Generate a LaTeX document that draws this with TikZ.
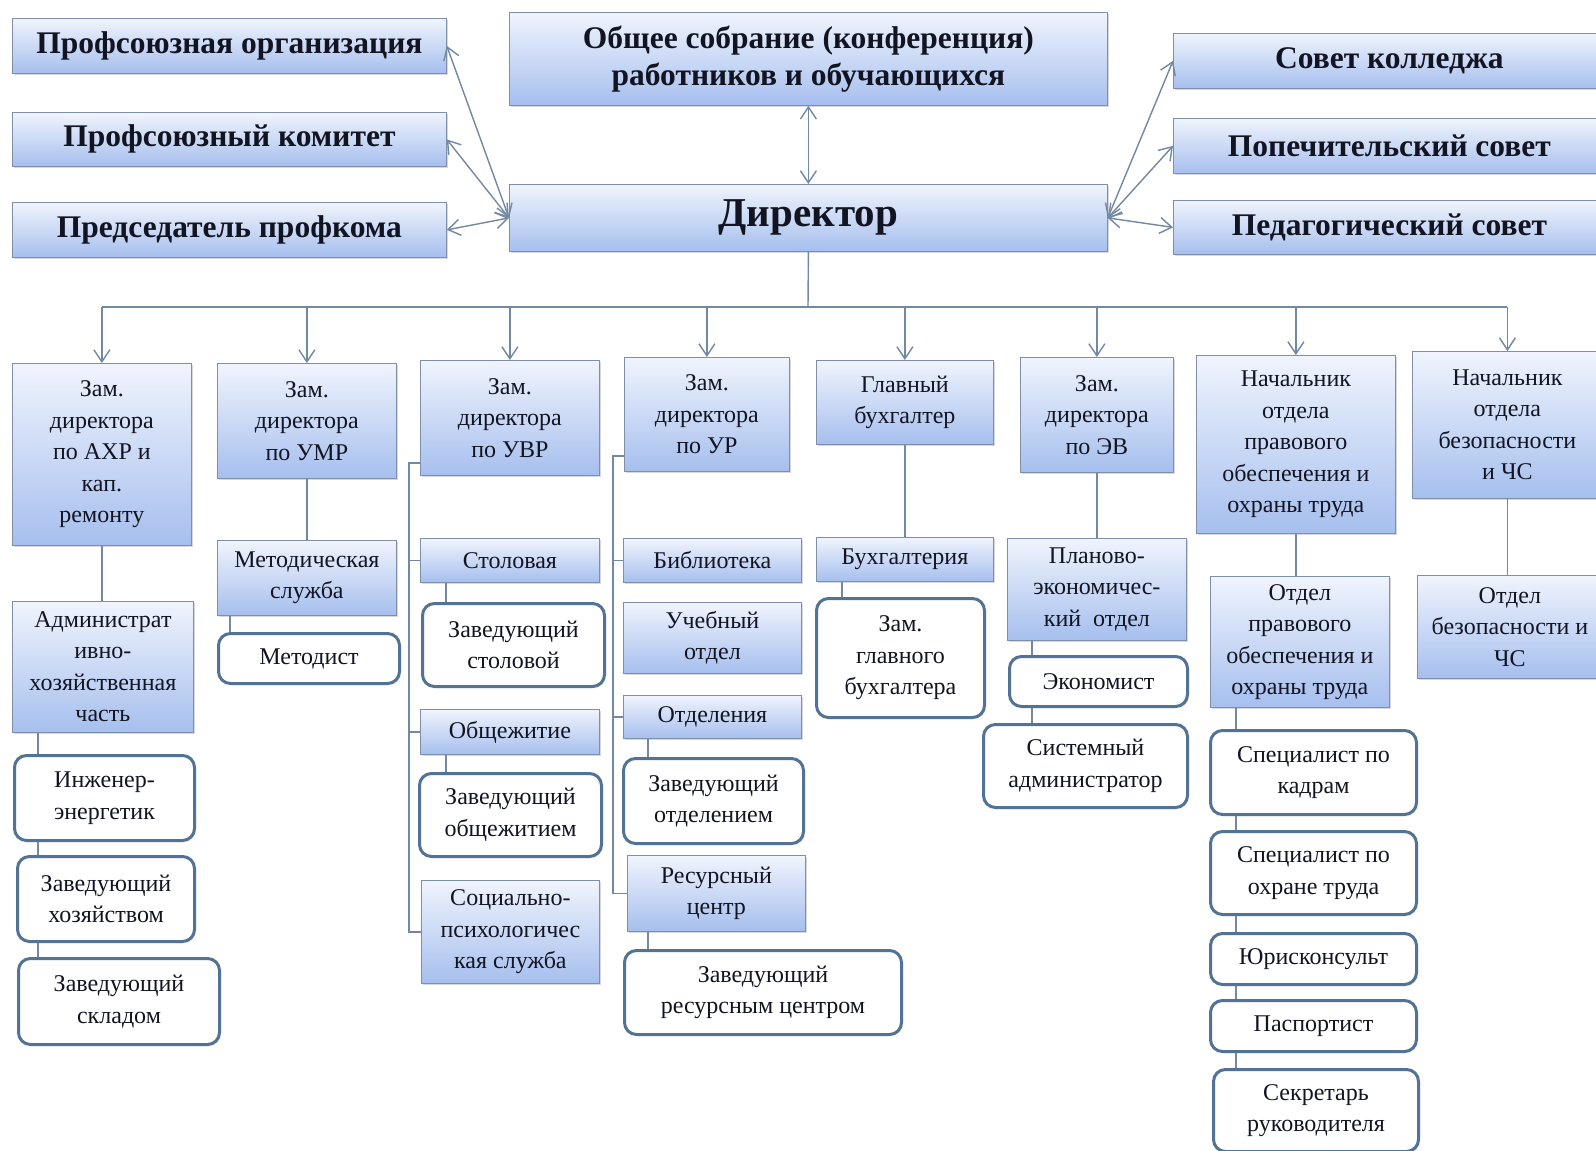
\documentclass[tikz,border=0pt]{standalone}
\usepackage{fontspec}
\setmainfont{Liberation Serif}
\usetikzlibrary{arrows.meta,positioning,shadows}
\usepackage{xcolor}

\definecolor{boxtop}{RGB}{240,244,253}
\definecolor{boxbot}{RGB}{166,191,238}
\definecolor{boxline}{RGB}{128,143,168}
\definecolor{rndline}{RGB}{82,114,150}
\definecolor{conn}{RGB}{114,136,163}
\definecolor{ink}{RGB}{18,20,34}

\newcommand\hdfont{\fontsize{31.5}{37}\selectfont\bfseries}
\newcommand\dirfont{\fontsize{41}{46}\selectfont\bfseries}
\newcommand\smfont{\fontsize{24}{31.5}\selectfont}

\tikzset{
    sz/.style 2 args={minimum width=#1pt, minimum height=#2pt},
    unit/.style={draw=boxline, line width=0.8pt, top color=boxtop, bottom color=boxbot, anchor=north west, align=center, inner sep=2pt, text=ink, font=\smfont, drop shadow={shadow xshift=2pt, shadow yshift=-2pt, opacity=0.3}},
    head/.style={unit, font=\hdfont},
    staff/.style={draw=rndline, line width=3pt, rounded corners=12pt, fill=white, anchor=north west, align=center, inner sep=2pt, text=ink, font=\smfont, drop shadow={shadow xshift=1.5pt, shadow yshift=-1.5pt, opacity=0.2}},
    link/.style={draw=conn, line width=1.4pt},
    flow/.style={link, -{Straight Barb[length=12pt, width=16pt]}},
    biflow/.style={link, {Straight Barb[length=12pt, width=16pt]}-{Straight Barb[length=12pt, width=16pt]}}
}

\begin{document}
\begin{tikzpicture}[x=1pt, y=-1pt]
\fill[white] (0,0) rectangle (1596,1151);
\useasboundingbox (0,0) rectangle (1596,1151);

% top level
\node[head, sz={434}{55}] (porg) at (12,18) {Профсоюзная организация};
\node[head, sz={434}{54}] (pkom) at (12,112) {Профсоюзный комитет};
\node[head, sz={434}{55}] (pred) at (12,202) {Председатель профкома};
\node[head, sz={598}{93}] (sobr) at (509,12) {Общее собрание (конференция)\\работников и обучающихся};
\node[unit, font=\dirfont, sz={598}{67}] (dir) at (509,184) {Директор};
\node[head, sz={432}{55}] (sovet) at (1173,33) {Совет колледжа};
\node[head, sz={432}{55}] (popech) at (1173,118) {Попечительский совет};
\node[head, sz={432}{54}] (pedsov) at (1173,200) {Педагогический совет};

\draw[biflow] (dir.west) -- (porg.east);
\draw[biflow] (dir.west) -- (pkom.east);
\draw[biflow] (dir.west) -- (pred.east);
\draw[biflow] (sobr.south) -- (dir.north);
\draw[biflow] (dir.east) -- (sovet.west);
\draw[biflow] (dir.east) -- (popech.west);
\draw[biflow] (dir.east) -- (pedsov.west);

% deputies
\node[unit, sz={179}{182}] (axr) at (12,363) {Зам.\\директора\\по АХР и\\кап.\\ремонту};
\node[unit, sz={179}{115}] (umr) at (217,363) {Зам.\\директора\\по УМР};
\node[unit, sz={179}{115}] (uvr) at (420,360) {Зам.\\директора\\по УВР};
\node[unit, sz={165}{114}] (ur) at (624,357) {Зам.\\директора\\по УР};
\node[unit, sz={177}{84}] (glb) at (816,360) {Главный\\бухгалтер};
\node[unit, sz={153}{115}] (ev) at (1020,357) {Зам.\\директора\\по ЭВ};
\node[unit, sz={199}{178}] (npr) at (1196,355) {Начальник\\отдела\\правового\\обеспечения и\\охраны труда};
\node[unit, sz={190}{147}] (nbez) at (1412,351) {Начальник\\отдела\\безопасности\\и ЧС};

\coordinate (bus) at (808,307);
\draw[link] (dir.south) -- (bus);
\draw[link] (axr.north |- bus) -- (nbez.north |- bus);
\draw[flow] (axr.north |- bus) -- (axr.north);
\draw[flow] (umr.north |- bus) -- (umr.north);
\draw[flow] (uvr.north |- bus) -- (uvr.north);
\draw[flow] (ur.north |- bus) -- (ur.north);
\draw[flow] (glb.north |- bus) -- (glb.north);
\draw[flow] (ev.north |- bus) -- (ev.north);
\draw[flow] (npr.north |- bus) -- (npr.north);
\draw[flow] (nbez.north |- bus) -- (nbez.north);

% column 1
\node[unit, sz={181}{131}] (ahch) at (12,601) {Администрат\\ивно-\\хозяйственная\\часть};
\node[staff, sz={180}{85}] (ing) at (13,754) {Инженер-\\энергетик};
\node[staff, sz={177}{85}] (zavh) at (16,855) {Заведующий\\хозяйством};
\node[staff, sz={201}{86}] (sklad) at (17,957) {Заведующий\\складом};
\coordinate (t1) at (38,0);
\draw[link] (axr.south) -- (axr.south |- ahch.north);
\draw[link] (t1 |- ahch.south) -- (t1 |- ing.north);
\draw[link] (t1 |- ing.south) -- (t1 |- zavh.north);
\draw[link] (t1 |- zavh.south) -- (t1 |- sklad.north);

% column 2
\node[unit, sz={179}{75}] (msl) at (217,540) {Методическая\\служба};
\node[staff, sz={181}{50}] (metod) at (217,632) {Методист};
\coordinate (t2) at (230,0);
\draw[link] (umr.south) -- (umr.south |- msl.north);
\draw[link] (t2 |- msl.south) -- (t2 |- metod.north);

% column 3
\node[unit, sz={179}{44}] (stol) at (420,538) {Столовая};
\node[staff, sz={182}{83}] (zstol) at (421,602) {Заведующий\\столовой};
\node[unit, sz={179}{45}] (obsh) at (420,709) {Общежитие};
\node[staff, sz={182}{83}] (zobsh) at (418,772) {Заведующий\\общежитием};
\node[unit, sz={178}{103}] (soc) at (421,880) {Социально-\\психологичес\\кая служба};
\coordinate (b3) at (409,0);
\coordinate (t3) at (446,0);
\draw[link] ([yshift=13pt]uvr.south west) -| (b3 |- soc.west) -- (soc.west);
\draw[link] (b3 |- stol.west) -- (stol.west);
\draw[link] (b3 |- obsh.west) -- (obsh.west);
\draw[link] (t3 |- stol.south) -- (t3 |- zstol.north);
\draw[link] (t3 |- obsh.south) -- (t3 |- zobsh.north);

% column 4
\node[unit, sz={178}{44}] (bib) at (623,538) {Библиотека};
\node[unit, sz={178}{71}] (uch) at (623,602) {Учебный\\отдел};
\node[unit, sz={178}{43}] (otd) at (623,695) {Отделения};
\node[staff, sz={180}{85}] (zotd) at (622,757) {Заведующий\\отделением};
\node[unit, sz={178}{76}] (res) at (627,855) {Ресурсный\\центр};
\node[staff, sz={277}{84}] (zres) at (623,949) {Заведующий\\ресурсным центром};
\coordinate (b4) at (613,0);
\coordinate (t4) at (648,0);
\draw[link] ([yshift=16pt]ur.south west) -| (b4 |- res.west) -- (res.west);
\draw[link] (b4 |- bib.west) -- (bib.west);
\draw[link] (b4 |- otd.west) -- (otd.west);
\draw[link] (t4 |- otd.south) -- (t4 |- zotd.north);
\draw[link] (t4 |- res.south) -- (t4 |- zres.north);

% column 5
\node[unit, sz={177}{44}] (buh) at (816,537) {Бухгалтерия};
\node[staff, sz={168}{119}] (zglb) at (815,597) {Зам.\\главного\\бухгалтера};
\coordinate (t5) at (842,0);
\draw[link] (glb.south) -- (glb.south |- buh.north);
\draw[link] (t5 |- buh.south) -- (t5 |- zglb.north);

% column 6
\node[unit, sz={179}{102}] (plan) at (1007,538) {Планово-\\экономичес-\\кий\ \ отдел};
\node[staff, sz={178}{50}] (econ) at (1008,655) {Экономист};
\node[staff, sz={204}{83}] (sys) at (982,723) {Системный\\администратор};
\coordinate (t6) at (1032,0);
\draw[link] (ev.south) -- (ev.south |- plan.north);
\draw[link] (t6 |- plan.south) -- (t6 |- econ.north);
\draw[link] (t6 |- econ.south) -- (t6 |- sys.north);

% column 7
\node[unit, sz={179}{131}] (opr) at (1210,576) {Отдел\\правового\\обеспечения и\\охраны труда};
\node[staff, sz={206}{84}] (kadr) at (1209,729) {Специалист по\\кадрам};
\node[staff, sz={206}{83}] (ohr) at (1209,830) {Специалист по\\охране труда};
\node[staff, sz={206}{51}] (jur) at (1209,932) {Юрисконсульт};
\node[staff, sz={206}{51}] (pasp) at (1209,999) {Паспортист};
\node[staff, sz={205}{82}] (sekr) at (1212,1068) {Секретарь\\руководителя};
\coordinate (t7) at (1236,0);
\draw[link] (npr.south) -- (npr.south |- opr.north);
\draw[link] (t7 |- opr.south) -- (t7 |- kadr.north);
\draw[link] (t7 |- kadr.south) -- (t7 |- ohr.north);
\draw[link] (t7 |- ohr.south) -- (t7 |- jur.north);
\draw[link] (t7 |- jur.south) -- (t7 |- pasp.north);
\draw[link] (t7 |- pasp.south) -- (t7 |- sekr.north);

% column 8
\node[unit, sz={185}{103}] (obez) at (1417,575) {Отдел\\безопасности и\\ЧС};
\draw[link] (nbez.south) -- (nbez.south |- obez.north);
\end{tikzpicture}
\end{document}
